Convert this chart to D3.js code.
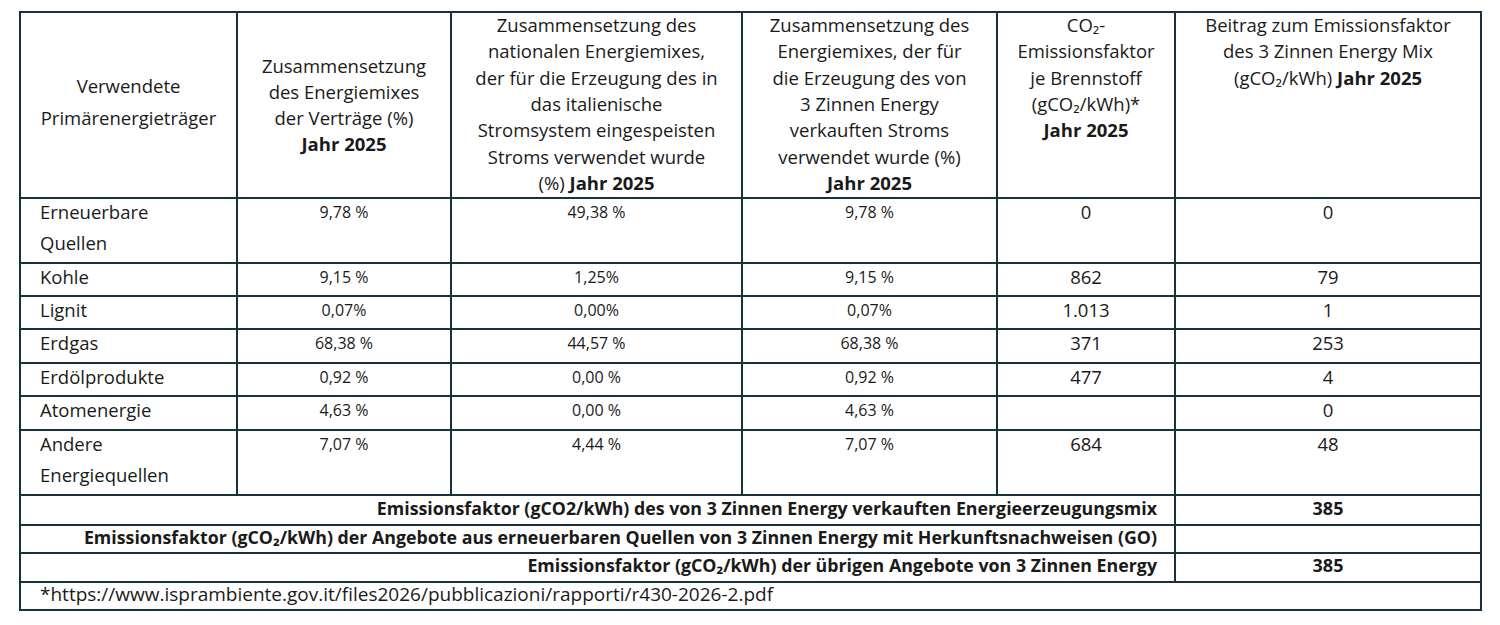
<!DOCTYPE html>
<html>
<head>
<meta charset="utf-8">
<script src="https://d3js.org/d3.v7.min.js"></script>
<style>
  body { margin: 0; background: #fff; }
  text { font-family: "Open Sans", sans-serif; fill: #1a1a1a; }
</style>
</head>
<body>
<svg id="tab" width="1500" height="625"></svg>
<script>
// header lines: each line is a list of [text, bold] segments
var headers = [
  [[["Verwendete",0]],[["Primärenergieträger",0]]],
  [[["Zusammensetzung",0]],[["des Energiemixes",0]],[["der Verträge (%)",0]],[["Jahr 2025",1]]],
  [[["Zusammensetzung des",0]],[["nationalen Energiemixes,",0]],[["der für die Erzeugung des in",0]],[["das italienische",0]],[["Stromsystem eingespeisten",0]],[["Stroms verwendet wurde",0]],[["(%) ",0],["Jahr 2025",1]]],
  [[["Zusammensetzung des",0]],[["Energiemixes, der für",0]],[["die Erzeugung des von",0]],[["3 Zinnen Energy",0]],[["verkauften Stroms",0]],[["verwendet wurde (%)",0]],[["Jahr 2025",1]]],
  [[["CO₂-",0]],[["Emissionsfaktor",0]],[["je Brennstoff",0]],[["(gCO₂/kWh)*",0]],[["Jahr 2025",1]]],
  [[["Beitrag zum Emissionsfaktor",0]],[["des 3 Zinnen Energy Mix",0]],[["(gCO₂/kWh) ",0],["Jahr 2025",1]]]
];
var sources = [["Erneuerbare","Quellen"],["Kohle"],["Lignit"],["Erdgas"],["Erdölprodukte"],["Atomenergie"],["Andere","Energiequellen"]];
var mixContracts = ["9,78 %","9,15 %","0,07%","68,38 %","0,92 %","4,63 %","7,07 %"];
var mixNational  = ["49,38 %","1,25%","0,00%","44,57 %","0,00 %","0,00 %","4,44 %"];
var mixSold      = ["9,78 %","9,15 %","0,07%","68,38 %","0,92 %","4,63 %","7,07 %"];
var co2Factor    = ["0","862","1.013","371","477","","684"];
var contribution = ["0","79","1","253","4","0","48"];
var summaryLabels = [
  "Emissionsfaktor (gCO2/kWh) des von 3 Zinnen Energy verkauften Energieerzeugungsmix",
  "Emissionsfaktor (gCO₂/kWh) der Angebote aus erneuerbaren Quellen von 3 Zinnen Energy mit Herkunftsnachweisen (GO)",
  "Emissionsfaktor (gCO₂/kWh) der übrigen Angebote von 3 Zinnen Energy"
];
var summaryValues = ["385","","385"];
var footnote = "*https://www.isprambiente.gov.it/files2026/pubblicazioni/rapporti/r430-2026-2.pdf";

var colEdges = [20, 237, 451, 742, 997, 1175, 1481];
var rowEdges = [12, 198, 263, 296, 329, 363, 396, 430, 495, 525, 553, 582, 610];
var stroke = "#17323a";
var svg = d3.select("#tab");

// grid lines
var g = svg.append("g").attr("stroke", stroke).attr("stroke-width", 2).attr("fill", "none");
g.append("rect").attr("x", colEdges[0]).attr("y", rowEdges[0])
  .attr("width", colEdges[6]-colEdges[0]).attr("height", rowEdges[12]-rowEdges[0]);
rowEdges.slice(1, 12).forEach(function(y){
  g.append("line").attr("x1", colEdges[0]).attr("x2", colEdges[6]).attr("y1", y).attr("y2", y);
});
colEdges.slice(1, 6).forEach(function(x){
  g.append("line").attr("x1", x).attr("x2", x).attr("y1", rowEdges[0]).attr("y2", rowEdges[8]);
});
g.append("line").attr("x1", colEdges[5]).attr("x2", colEdges[5]).attr("y1", rowEdges[8]).attr("y2", rowEdges[11]);

function mid(i){ return (colEdges[i]+colEdges[i+1])/2; }

// headers
var headStart = [88, 68, 27, 27, 27, 27];
var headStep = [32, 26, 26.3, 26.3, 26.3, 26.3];
headers.forEach(function(lines, c){
  lines.forEach(function(segs, k){
    var t = svg.append("text").attr("x", mid(c)).attr("y", headStart[c] + k*headStep[c])
      .attr("text-anchor", "middle").attr("dominant-baseline", "middle").attr("font-size", 18.5);
    segs.forEach(function(s){ t.append("tspan").text(s[0]).attr("font-weight", s[1] ? "bold" : "normal"); });
  });
});

// body rows
sources.forEach(function(lines, r){
  var y0 = rowEdges[r+1] + 16;
  lines.forEach(function(l, k){
    svg.append("text").attr("x", colEdges[0]+20).attr("y", y0 + k*31)
      .attr("dominant-baseline", "middle").attr("font-size", 18.5).text(l);
  });
  [mixContracts, mixNational, mixSold].forEach(function(arr, j){
    svg.append("text").attr("x", mid(j+1)).attr("y", y0).attr("text-anchor", "middle")
      .attr("dominant-baseline", "middle").attr("font-size", 16).text(arr[r]);
  });
  [co2Factor, contribution].forEach(function(arr, j){
    svg.append("text").attr("x", mid(j+4)).attr("y", y0).attr("text-anchor", "middle")
      .attr("dominant-baseline", "middle").attr("font-size", 18.5).text(arr[r]);
  });
});

// summary rows
summaryLabels.forEach(function(l, i){
  var y = (rowEdges[8+i] + rowEdges[9+i]) / 2;
  svg.append("text").attr("x", colEdges[5]-18).attr("y", y).attr("text-anchor", "end")
    .attr("dominant-baseline", "middle").attr("font-size", 17.8).attr("font-weight", "bold").text(l);
  svg.append("text").attr("x", mid(5)).attr("y", y).attr("text-anchor", "middle")
    .attr("dominant-baseline", "middle").attr("font-size", 18).attr("font-weight", "bold").text(summaryValues[i]);
});

svg.append("text").attr("x", colEdges[0]+20).attr("y", (rowEdges[11]+rowEdges[12])/2)
  .attr("dominant-baseline", "middle").attr("font-size", 19).text(footnote);
</script>
</body>
</html>
